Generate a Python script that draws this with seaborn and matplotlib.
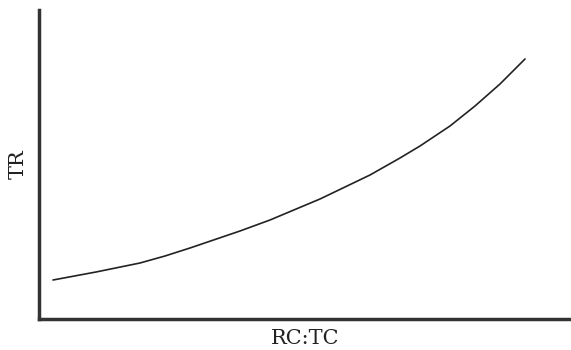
import matplotlib
matplotlib.use("Agg")
import matplotlib.pyplot as plt
import seaborn as sns
import pandas as pd

# Data (arbitrary units)
rc_tc = [14, 57, 101, 126, 151, 201, 231, 281, 331, 361, 381, 411, 436, 461, 486]
tr = [39, 47, 56, 63, 71, 88, 99, 120, 144, 161, 173, 193, 213, 235, 260]
x_label = "RC:TC"
y_label = "TR"

sns.set_theme(style="white")
plt.rcParams['font.family'] = ['DejaVu Serif']

df = pd.DataFrame({"x": rc_tc, "y": tr})

fig = plt.figure(figsize=(5.71, 3.5), dpi=100)
ax = fig.add_axes([39/571, 31/350, 532/571, 309/350])
sns.lineplot(data=df, x="x", y="y", ax=ax, color="#222222", linewidth=1.2)
ax.set_xlim(0, 532)
ax.set_ylim(0, 309)
ax.set_xticks([])
ax.set_yticks([])
ax.set_xlabel(x_label, fontsize=15, color="#222222", labelpad=7)
ax.set_ylabel(y_label, fontsize=15, color="#222222", labelpad=8)
for s in ["top", "right"]:
    ax.spines[s].set_visible(False)
for s in ["left", "bottom"]:
    ax.spines[s].set_linewidth(2.5)
    ax.spines[s].set_color("#333333")
fig.savefig("out.png", dpi=100)
